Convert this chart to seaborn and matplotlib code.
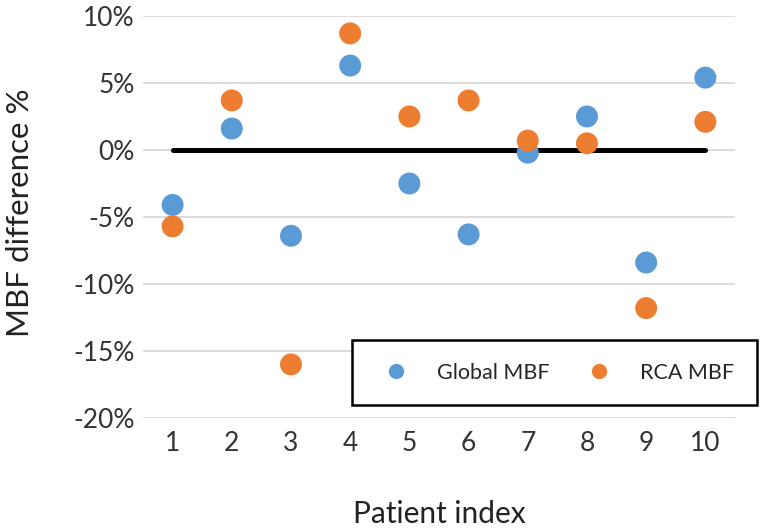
import matplotlib.pyplot as plt
import pandas as pd
import numpy as np
import seaborn as sns
from matplotlib.ticker import FuncFormatter

# values (percent)
patients = [1, 2, 3, 4, 5, 6, 7, 8, 9, 10]
global_mbf = [-4.1, 1.6, -6.4, 6.3, -2.5, -6.3, -0.2, 2.5, -8.4, 5.4]
rca_mbf = [-5.7, 3.7, -16.0, 8.7, 2.5, 3.7, 0.7, 0.5, -11.8, 2.1]
series_names = ['Global MBF', 'RCA MBF']
colors = ['#5B9BD5', '#ED7D31']

df = pd.DataFrame({
    'patient': patients * 2,
    'diff': global_mbf + rca_mbf,
    'series': [series_names[0]] * 10 + [series_names[1]] * 10,
})

sns.set_style('white')
plt.rcParams['font.family'] = ['Lato', 'DejaVu Sans']

fig = plt.figure(figsize=(7.7, 5.31), dpi=100)
ax = fig.add_axes([0.1857, 0.2128, 0.7688, 0.7571])

# zero reference line
ax.plot([patients[0], patients[-1]], [0, 0], color='black', lw=3.6,
        solid_capstyle='round', zorder=2)

sns.scatterplot(data=df, x='patient', y='diff', hue='series',
                palette=colors, s=250, edgecolor='none', ax=ax, zorder=3)

ax.set_xlim(0.5, 10.5)
ax.set_ylim(-20, 10)
ax.set_xticks(patients)
ax.set_yticks(np.arange(-20, 11, 5))
ax.yaxis.set_major_formatter(FuncFormatter(lambda v, p: f'{int(v)}%'))
ax.grid(axis='y', color='#d9d9d9', lw=1.3)
ax.set_axisbelow(True)
for s in ax.spines.values():
    s.set_visible(False)
ax.tick_params(axis='both', labelsize=19, length=0, colors='#333333')
ax.tick_params(axis='y', pad=6)
ax.tick_params(axis='x', pad=9)
ax.set_xlabel('Patient index', fontsize=21.5, color='#222222')
ax.set_ylabel('MBF difference %', fontsize=22.5, color='#222222')
ax.xaxis.label.set_verticalalignment('center')
ax.yaxis.label.set_verticalalignment('center')
ax.xaxis.set_label_coords(0.5, (418 - 514) / 402)
ax.yaxis.set_label_coords((20 - 143) / 592, 0.51)

ax.get_legend().remove()
handles, labels = ax.get_legend_handles_labels()
for h in handles:
    h.set_markersize(11)
leg = fig.legend(handles, labels, loc='upper left', ncol=2, mode='expand',
                 bbox_to_anchor=(352 / 770, 1 - 340 / 531, 405 / 770, 0.0),
                 borderaxespad=0, fontsize=15.5, frameon=True, fancybox=False,
                 borderpad=1.05, handletextpad=0.9, columnspacing=2.0)
leg.get_frame().set_edgecolor('black')
leg.get_frame().set_linewidth(1.8)
leg.get_frame().set_alpha(1)

fig.savefig('out.png', dpi=100)
